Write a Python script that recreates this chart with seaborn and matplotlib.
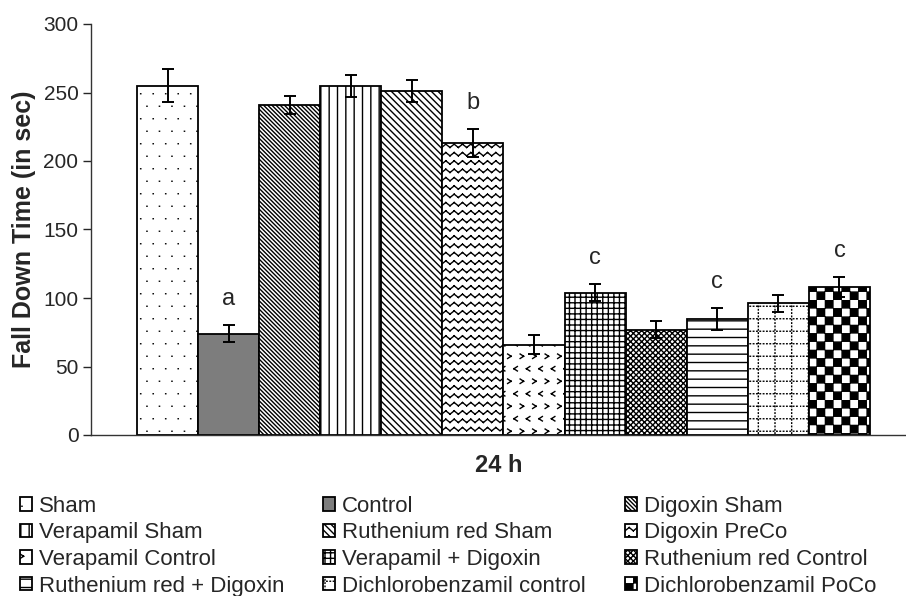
import numpy as np
import pandas as pd
import seaborn as sns
import matplotlib
matplotlib.use('Agg')
import matplotlib.pyplot as plt
import matplotlib.hatch as mhatch
from matplotlib.path import Path
import warnings
warnings.filterwarnings("ignore")

# data (fall down time in sec, mean +/- error)
groups = ['Sham', 'Control', 'Digoxin Sham', 'Verapamil Sham', 'Ruthenium red Sham',
          'Digoxin PreCo', 'Verapamil Control', 'Verapamil + Digoxin',
          'Ruthenium red Control', 'Ruthenium red + Digoxin',
          'Dichlorobenzamil control', 'Dichlorobenzamil PoCo']
fall_time = [255, 74, 241, 255, 251, 213, 66, 104, 77, 85, 96, 108]
sem = [12, 6, 6.5, 8, 8, 10, 7, 6, 6.5, 8, 6.5, 7.5]
letters = ['', 'a', '', '', '', 'b', '', 'c', '', 'c', '', 'c']
time_label = '24 h'

face = ['white', '#7d7d7d'] + ['white'] * 10
hatches = [',', '', '\\' * 8, '||', '\\' * 5, '~~', '^', '+++', 'xxxxxx', '--', ':', '#']

MOVE, LINE = Path.MOVETO, Path.LINETO


# extra hatch patterns: tiny dots (,), wavy lines (~), chevrons (^),
# dotted grid (:), checkerboard (#)
class TinyDotHatch(mhatch.HatchPatternBase):
    def __init__(self, hatch, density):
        self.n = hatch.count(',') * 8
        self.num_vertices = 2 * self.n ** 2

    def set_vertices_and_codes(self, vertices, codes):
        n = self.n
        s = 1.0 / n
        k = 0
        for r in range(n):
            y = (r + 0.5) * s
            off = 0.25 * s if r % 2 == 0 else 0.75 * s
            for c in range(n):
                x = c * s + off
                vertices[k:k + 2] = [(x, y), (x + 0.002, y)]
                codes[k:k + 2] = [MOVE, LINE]
                k += 2


class WaveHatch(mhatch.HatchPatternBase):
    def __init__(self, hatch, density):
        self.num_rows = hatch.count('~') * density
        self.num_vertices = 4 * self.num_rows ** 2

    def set_vertices_and_codes(self, vertices, codes):
        n = self.num_rows
        step = 1.0 / n
        amp = step * 0.2
        xs = np.linspace(0, 1, 2 * n + 1)
        k = 0
        for r in range(n):
            y0 = (r + 0.5) * step
            ys = y0 + np.where(np.arange(2 * n + 1) % 2 == 0, -amp, amp)
            for i in range(2 * n):
                vertices[k] = (xs[i], ys[i])
                vertices[k + 1] = (xs[i + 1], ys[i + 1])
                codes[k] = MOVE
                codes[k + 1] = LINE
                k += 2


class ChevronHatch(mhatch.HatchPatternBase):
    def __init__(self, hatch, density):
        self.n = hatch.count('^') * 8
        self.num_vertices = 4 * self.n ** 2

    def set_vertices_and_codes(self, vertices, codes):
        n = self.n
        s = 1.0 / n
        w, h = 0.14 * s, 0.18 * s
        k = 0
        for r in range(n):
            y = (r + 0.5) * s
            off = 0.25 * s if r % 2 == 0 else 0.75 * s
            sg = 1 if r % 2 == 0 else -1
            for c in range(n):
                x = c * s + off
                vertices[k:k + 4] = [(x + sg * w, y + h), (x - sg * w, y),
                                     (x - sg * w, y), (x + sg * w, y - h)]
                codes[k:k + 4] = [MOVE, LINE, MOVE, LINE]
                k += 4


class DotGridHatch(mhatch.HatchPatternBase):
    def __init__(self, hatch, density):
        c = hatch.count(':')
        self.nv = c * 6
        self.nh = c * 8
        self.m = 30
        self.num_vertices = 2 * self.m * (self.nv + self.nh) if c else 0

    def set_vertices_and_codes(self, vertices, codes):
        m = self.m
        d = 1.0 / m
        k = 0
        for i in range(self.nv):
            x = (i + 0.5) / self.nv
            for j in range(m):
                vertices[k:k + 2] = [(x, j * d), (x, j * d + 0.15 * d)]
                codes[k:k + 2] = [MOVE, LINE]
                k += 2
        for i in range(self.nh):
            y = (i + 0.5) / self.nh
            for j in range(m):
                vertices[k:k + 2] = [(j * d, y), (j * d + 0.15 * d, y)]
                codes[k:k + 2] = [MOVE, LINE]
                k += 2


class CheckerHatch(mhatch.HatchPatternBase):
    def __init__(self, hatch, density):
        self.num_cells = hatch.count('#') * density
        self.num_vertices = 10 * self.num_cells ** 2

    def set_vertices_and_codes(self, vertices, codes):
        m = 2 * self.num_cells
        s = 1.0 / m
        d = 0.004
        k = 0
        for i in range(m):
            for j in range(m):
                if (i + j) % 2 == 0:
                    x, y = i * s, j * s
                    vertices[k:k + 5] = [(x + d, y + d), (x + s - d, y + d),
                                         (x + s - d, y + s - d), (x + d, y + s - d),
                                         (x + d, y + d)]
                    codes[k:k + 5] = [MOVE, LINE, LINE, LINE, Path.CLOSEPOLY]
                    k += 5


mhatch._hatch_types.extend([TinyDotHatch, WaveHatch, ChevronHatch,
                            DotGridHatch, CheckerHatch])

sns.set_style('white')
plt.rcParams['font.family'] = ['Liberation Sans', 'DejaVu Sans']
plt.rcParams['hatch.linewidth'] = 1.0

df = pd.DataFrame({'time': time_label, 'group': groups, 'fall': fall_time})
palette = dict(zip(groups, face))

fig = plt.figure(figsize=(9.06, 5.96), dpi=100)
ax = fig.add_axes([91 / 906, 161 / 596, 815 / 906, 411 / 596])
sns.barplot(data=df, x='time', y='fall', hue='group', hue_order=groups,
            palette=palette, saturation=1, errorbar=None, width=0.8,
            edgecolor='black', linewidth=1.3, legend=False, ax=ax)

for cont, h in zip(ax.containers, hatches):
    for bar in cont:
        bar.set_hatch(h)

centers = [c[0].get_x() + c[0].get_width() / 2 for c in ax.containers]
ax.errorbar(centers, fall_time, yerr=sem, fmt='none', ecolor='black',
            elinewidth=1.4, capsize=4.5, capthick=1.4)

for cx, v, e, t in zip(centers, fall_time, sem, letters):
    if t:
        ax.text(cx, v + e + 11, t, ha='center', va='bottom', fontsize=17)

ax.set_ylim(0, 300)
ax.set_yticks(range(0, 301, 50))
ax.set_xlim(-0.4502, 0.4393)
ax.set_xticks([])
ax.set_xlabel(time_label, fontsize=17, fontweight='bold', labelpad=14)
ax.set_ylabel('Fall Down Time (in sec)', fontsize=18, fontweight='bold', labelpad=5)
ax.tick_params(axis='y', left=True, direction='out', length=6, width=1,
               labelsize=15, pad=3)
sns.despine(ax=ax)
for sp in ['left', 'bottom']:
    ax.spines[sp].set_linewidth(1)
    ax.spines[sp].set_color('#333333')

# legend filled row by row like the original
handles = [c[0] for c in ax.containers]
order = [0, 3, 6, 9, 1, 4, 7, 10, 2, 5, 8, 11]
fig.legend([handles[i] for i in order], [groups[i] for i in order], ncol=3,
           loc='upper left', bbox_to_anchor=(0.022, 0.168), frameon=False,
           fontsize=16, handlelength=0.55, handleheight=0.55, handletextpad=0.3,
           columnspacing=1.75, labelspacing=0.25, borderpad=0, borderaxespad=0)

fig.savefig('out.png', dpi=100)
